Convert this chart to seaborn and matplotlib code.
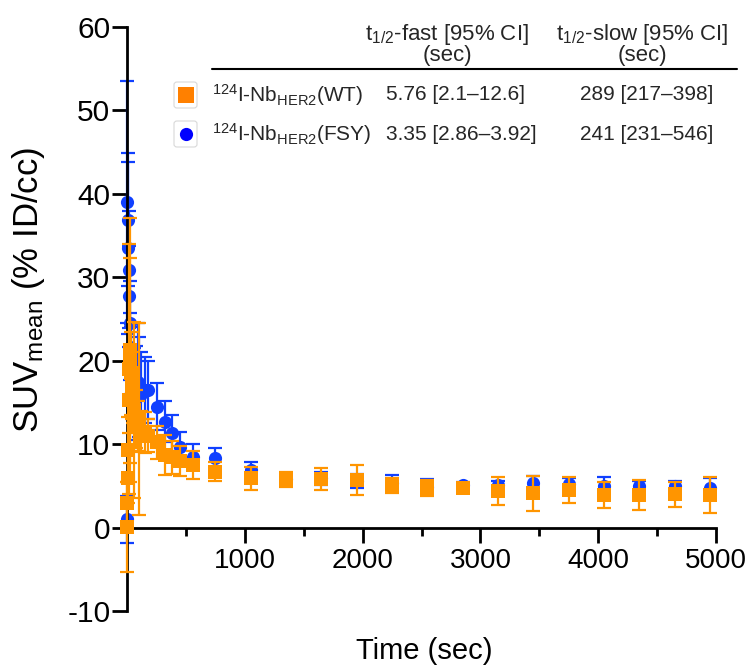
import numpy as np
import pandas as pd
import matplotlib
matplotlib.use("Agg")
import matplotlib.pyplot as plt
import seaborn as sns
from matplotlib.patches import FancyBboxPatch
from matplotlib.lines import Line2D

# ---------------- data ----------------
time_s = [0, 4, 8, 12, 16, 20, 24, 28, 32, 40, 50, 60, 75, 90, 105, 120, 150,
          180, 255, 320, 385, 450, 560, 750, 1050, 1350, 1650, 1950, 2250,
          2550, 2850, 3150, 3450, 3750, 4050, 4350, 4650, 4950]

fsy_mean = [1.0, 39.0, 36.9, 33.5, 30.9, 27.7, 24.5, 21.7, 20.0, 18.5, 17.5,
            17.0, 16.8, 17.5, 16.8, 16.0, 16.5, 16.5, 14.5, 12.7, 11.3, 9.6,
            8.5, 8.3, 6.9, 5.8, 5.9, 5.6, 5.3, 4.9, 5.1, 5.1, 5.4, 5.2, 5.0,
            5.0, 5.0, 4.8]
fsy_err = [2.8, 14.5, 8.0, 10.3, 7.0, 6.0, 5.0, 4.0, 4.0, 3.0, 3.5, 4.5, 5.0,
           7.0, 6.0, 5.0, 4.0, 3.5, 2.8, 2.5, 2.2, 1.8, 1.5, 1.2, 0.9, 0.6,
           0.8, 0.8, 1.0, 0.9, 0.4, 0.5, 0.8, 0.7, 1.1, 0.6, 0.6, 1.2]

wt_mean = [0.1, 3.0, 6.0, 9.3, 15.3, 19.0, 21.3, 20.0, 18.5, 17.0, 15.5,
           14.1, 13.0, 12.2, 13.0, 11.5, 11.4, 11.0, 10.2, 8.7, 8.4, 8.0,
           7.5, 6.7, 5.9, 5.8, 5.8, 5.7, 5.1, 4.75, 4.8, 4.4, 4.1, 4.5, 3.9,
           3.9, 4.0, 3.9]
wt_err = [5.4, 2.5, 3.0, 4.0, 4.0, 15.0, 15.8, 12.3, 5.0, 4.0, 3.0, 10.5,
          3.5, 3.0, 11.5, 2.5, 2.5, 2.0, 2.0, 2.4, 2.0, 1.8, 1.7, 1.1, 1.4,
          0.9, 1.3, 1.8, 0.9, 1.0, 0.3, 1.7, 2.1, 1.55, 1.6, 1.85, 1.5, 2.2]

series_labels = [r"$^{\mathregular{124}}$I-Nb$_{\mathregular{HER2}}$(WT)",
                 r"$^{\mathregular{124}}$I-Nb$_{\mathregular{HER2}}$(FSY)"]
fast_ci = ["5.76 [2.1\u201312.6]", "3.35 [2.86\u20133.92]"]
slow_ci = ["289 [217\u2013398]", "241 [231\u2013546]"]
col_headers = [r"t$_{\mathregular{1/2}}$-fast [95% CI]" + "\n(sec)",
               r"t$_{\mathregular{1/2}}$-slow [95% CI]" + "\n(sec)"]
x_ticks = [1000, 2000, 3000, 4000, 5000]
y_ticks = [-10, 0, 10, 20, 30, 40, 50, 60]

# ---------------- style ----------------
sns.set_theme(style="ticks")
plt.rcParams["font.family"] = ["Liberation Sans", "DejaVu Sans"]
plt.rcParams["mathtext.fontset"] = "custom"
plt.rcParams["mathtext.rm"] = "Liberation Sans"
plt.rcParams["mathtext.it"] = "Liberation Sans:italic"
plt.rcParams["mathtext.bf"] = "Liberation Sans:bold"

ORANGE = "#FF9500"
BLUE = "#1040FF"
LEG_ORANGE = "#FF8000"
LEG_BLUE = "#0000FF"

W, H = 749, 666
fig = plt.figure(figsize=(W / 100, H / 100), dpi=100)
ax = fig.add_axes([127 / W, (H - 611) / H, (716 - 127) / W, (611 - 27) / H])

df = pd.DataFrame({
    "time": time_s * 2,
    "suv": fsy_mean + wt_mean,
    "err": fsy_err + wt_err,
    "group": ["FSY"] * len(time_s) + ["WT"] * len(time_s),
})

def draw(group, color, marker, size, z):
    d = df[df["group"] == group]
    cont = ax.errorbar(d["time"], d["suv"], yerr=d["err"], fmt="none",
                       ecolor=color, elinewidth=1.6, capsize=5,
                       capthick=1.6, zorder=z)
    for art in cont.get_children():
        art.set_clip_on(False)
    sns.scatterplot(data=d, x="time", y="suv", marker=marker, s=size,
                    color=color, linewidth=0, ax=ax, zorder=z + 0.5,
                    clip_on=False, legend=False)

draw("FSY", BLUE, "o", 90, 2)
draw("WT", ORANGE, "s", 95, 4)

ax.set_xlim(0, 5000)
ax.set_ylim(-10, 60)
ax.spines["top"].set_visible(False)
ax.spines["right"].set_visible(False)
ax.spines["bottom"].set_position(("data", 0))
for s in ("left", "bottom"):
    ax.spines[s].set_linewidth(2)
    ax.spines[s].set_color("black")

ax.set_xticks(x_ticks)
ax.set_xticklabels([str(v) for v in x_ticks])
ax.set_xticks([500, 1500, 2500, 3500, 4500], minor=True)
ax.set_yticks(y_ticks)
ax.set_yticklabels([str(v) for v in y_ticks])
ax.tick_params(axis="both", which="major", length=11, width=2, color="black",
               labelcolor="black", direction="out")
ax.tick_params(axis="x", which="major", pad=4, labelsize=20)
ax.tick_params(axis="y", which="major", pad=1, labelsize=21.5)
ax.tick_params(axis="x", which="minor", length=5.5, width=2, color="black")

ax.set_xlabel("Time (sec)", fontsize=21, color="black")
ax.set_ylabel(r"SUV$_{\mathregular{mean}}$ (% ID/cc)", fontsize=25, color="black")
ax.xaxis.set_label_coords(0.504, -0.045)
ax.yaxis.set_label_coords(-0.136, 0.55)
ax.grid(False)

# ---------------- table legend ----------------
def fx(px):
    return px / W

def fy(py):
    return 1 - py / H

TS = 15
fig.text(fx(447), fy(44), col_headers[0], ha="center", va="center",
         fontsize=16, multialignment="center", linespacing=0.9)
fig.text(fx(642), fy(44), col_headers[1], ha="center", va="center",
         fontsize=16, multialignment="center", linespacing=0.9)
fig.add_artist(Line2D([fx(212), fx(737)], [fy(69), fy(69)],
                      transform=fig.transFigure, color="black", lw=1.5))

rows_y = [95, 134]
leg_colors = [LEG_ORANGE, LEG_BLUE]
leg_markers = ["s", "o"]
leg_sizes = [11, 9.5]
for i, ry in enumerate(rows_y):
    box = FancyBboxPatch((fx(174), fy(ry + 13)), fx(197) - fx(174),
                         fy(ry - 13) - fy(ry + 13),
                         boxstyle="round,pad=0,rounding_size=0.004",
                         transform=fig.transFigure, facecolor="white",
                         edgecolor="#D8D8D8", lw=0.8)
    fig.add_artist(box)
    fig.add_artist(Line2D([fx(185.5)], [fy(ry)], transform=fig.transFigure,
                          marker=leg_markers[i], markersize=leg_sizes[i],
                          color=leg_colors[i], markeredgewidth=0, ls="none"))
    fig.text(fx(212), fy(ry), series_labels[i], ha="left", va="center",
             fontsize=TS)
    fig.text(fx(386), fy(ry), fast_ci[i], ha="left", va="center", fontsize=TS)
    fig.text(fx(580), fy(ry), slow_ci[i], ha="left", va="center", fontsize=TS)

fig.savefig("out.png", dpi=100, facecolor="white")
